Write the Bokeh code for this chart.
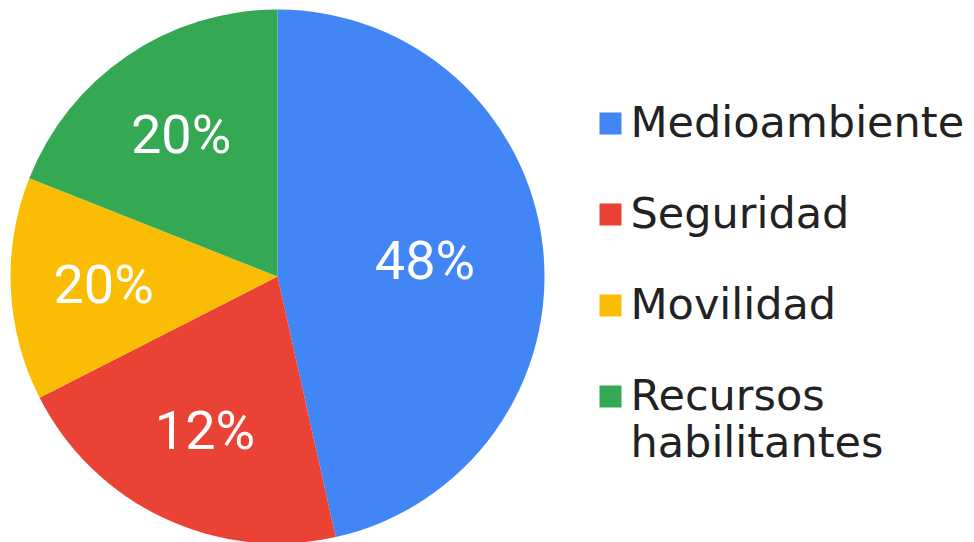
import numpy as np
from bokeh.plotting import figure
from bokeh.models import Range1d, ColumnDataSource
from bokeh.core.properties import value
from bokeh.embed import file_html
from bokeh.resources import INLINE

# Data (slice shares, labels as printed)
categories = ["Medioambiente", "Seguridad", "Movilidad", "Recursos\nhabilitantes"]
shares = [46.5, 21.0, 13.5, 19.0]
pct_labels = ["48%", "12%", "20%", "20%"]
colors = ["#4285F4", "#EA4335", "#FBBC04", "#34A853"]

W, H = 974, 542
p = figure(width=W, height=H, output_backend="svg", toolbar_location=None,
           x_range=Range1d(0, W), y_range=Range1d(0, H),
           min_border=0, outline_line_color=None, background_fill_color="white",
           border_fill_color="white")
p.axis.visible = False
p.grid.visible = False

cx, cy, R = 277, 266, 267
vals = np.array(shares, dtype=float)
frac = vals / vals.sum()
cum = np.concatenate([[0], np.cumsum(frac)])
start = np.pi / 2 - cum[:-1] * 2 * np.pi
end = np.pi / 2 - cum[1:] * 2 * np.pi
mid = (start + end) / 2
theta = frac * 2 * np.pi

src = ColumnDataSource(dict(x=[cx] * 4, y=[cy] * 4, start=start, end=end, color=colors))
p.wedge(x="x", y="y", radius=R, start_angle="start", end_angle="end",
        direction="clock", fill_color="color", line_color="white", line_width=0,
        source=src)

# label radius: blend of fixed fraction and sector centroid distance
centroid = 2 * R * np.sin(theta / 2) / (1.5 * theta)
lr = 0.5 * (0.62 * R) + 0.5 * centroid + 5
lab = ColumnDataSource(dict(x=cx + lr * np.cos(mid), y=cy + lr * np.sin(mid), t=pct_labels))
p.text(x="x", y="y", text="t", source=lab, text_color="white",
       text_font=value("Roboto"), text_font_size="54px",
       text_align="center", text_baseline="middle")

# Legend drawn manually
lx, ly0, step = 610, H - 123, 91
sq_x, sq_y = [], []
tx, ty, tt = [], [], []
for i, c in enumerate(categories):
    yy = ly0 - i * step
    sq_x.append(lx)
    sq_y.append(yy)
    for j, line in enumerate(c.split("\n")):
        tx.append(lx + 20)
        ty.append(yy + 2 - j * 47)
        tt.append(line)
p.rect(x=sq_x, y=sq_y, width=22, height=22, fill_color=colors, line_color=None)
p.text(x=tx, y=ty, text=tt, text_color="#222222",
       text_font=value("DejaVu Sans"), text_font_size="43px",
       text_align="left", text_baseline="alphabetic")

open("out.html", "w").write(file_html(p, INLINE))
